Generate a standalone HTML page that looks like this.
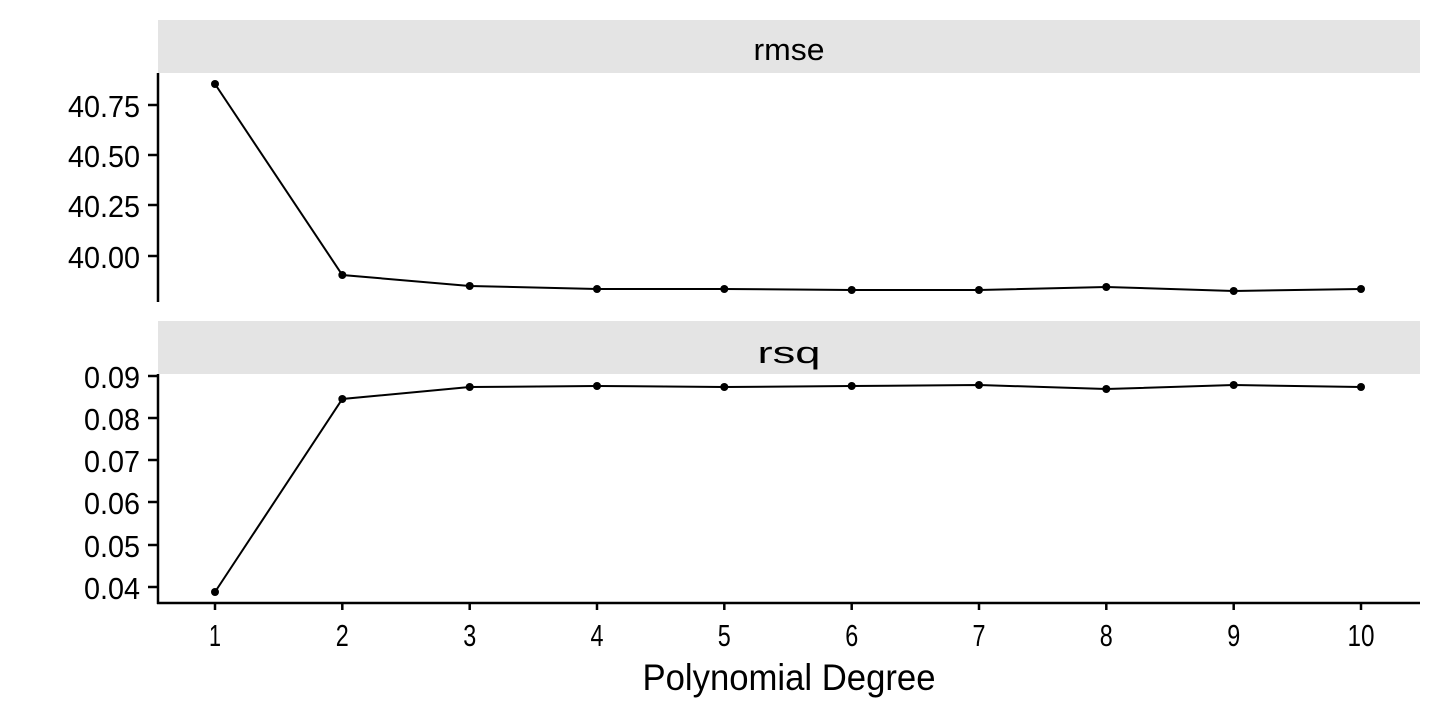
<!DOCTYPE html>
<html><head><meta charset="utf-8"><style>
html,body{margin:0;padding:0;background:#fff;}
text{font-family:"Liberation Sans",sans-serif;fill:#000;}
</style></head><body>
<svg width="1440" height="720" viewBox="0 0 1440 720" xmlns="http://www.w3.org/2000/svg">
<rect x="158" y="20" width="1262" height="53" fill="#e4e4e4"/>
<rect x="158" y="321" width="1262" height="53" fill="#e4e4e4"/>
<text x="789" y="60" font-size="31" text-anchor="middle" textLength="71" lengthAdjust="spacingAndGlyphs">rmse</text>
<text x="789" y="363" font-size="31" text-anchor="middle" textLength="63" lengthAdjust="spacingAndGlyphs">rsq</text>
<g stroke="#000" stroke-width="2.5" fill="none">
<line x1="158" y1="73" x2="158" y2="302"/>
<line x1="158" y1="374" x2="158" y2="604"/>
<line x1="157" y1="603" x2="1420" y2="603"/>
<line x1="148" y1="105" x2="158" y2="105"/>
<line x1="148" y1="155" x2="158" y2="155"/>
<line x1="148" y1="205" x2="158" y2="205"/>
<line x1="148" y1="256" x2="158" y2="256"/>
<line x1="148" y1="376" x2="158" y2="376"/>
<line x1="148" y1="418" x2="158" y2="418"/>
<line x1="148" y1="460" x2="158" y2="460"/>
<line x1="148" y1="502" x2="158" y2="502"/>
<line x1="148" y1="545" x2="158" y2="545"/>
<line x1="148" y1="587" x2="158" y2="587"/>
</g>
<g font-size="31" text-anchor="end">
<text x="140" y="117" textLength="72" lengthAdjust="spacingAndGlyphs">40.75</text>
<text x="140" y="167" textLength="72" lengthAdjust="spacingAndGlyphs">40.50</text>
<text x="140" y="217" textLength="72" lengthAdjust="spacingAndGlyphs">40.25</text>
<text x="140" y="268" textLength="72" lengthAdjust="spacingAndGlyphs">40.00</text>
<text x="140" y="388" textLength="56" lengthAdjust="spacingAndGlyphs">0.09</text>
<text x="140" y="430" textLength="56" lengthAdjust="spacingAndGlyphs">0.08</text>
<text x="140" y="472" textLength="56" lengthAdjust="spacingAndGlyphs">0.07</text>
<text x="140" y="514" textLength="56" lengthAdjust="spacingAndGlyphs">0.06</text>
<text x="140" y="557" textLength="56" lengthAdjust="spacingAndGlyphs">0.05</text>
<text x="140" y="599" textLength="56" lengthAdjust="spacingAndGlyphs">0.04</text>
</g>
<g stroke="#000" stroke-width="2.5">
<line x1="215" y1="603" x2="215" y2="610"/><line x1="342.3" y1="603" x2="342.3" y2="610"/>
<line x1="469.7" y1="603" x2="469.7" y2="610"/><line x1="597" y1="603" x2="597" y2="610"/>
<line x1="724.3" y1="603" x2="724.3" y2="610"/><line x1="851.7" y1="603" x2="851.7" y2="610"/>
<line x1="979" y1="603" x2="979" y2="610"/><line x1="1106.3" y1="603" x2="1106.3" y2="610"/>
<line x1="1233.7" y1="603" x2="1233.7" y2="610"/><line x1="1361" y1="603" x2="1361" y2="610"/>
</g>
<g font-size="31" text-anchor="middle">
<text x="215" y="646" textLength="12" lengthAdjust="spacingAndGlyphs">1</text><text x="342.3" y="646" textLength="13" lengthAdjust="spacingAndGlyphs">2</text><text x="469.7" y="646" textLength="13" lengthAdjust="spacingAndGlyphs">3</text>
<text x="597" y="646" textLength="13" lengthAdjust="spacingAndGlyphs">4</text><text x="724.3" y="646" textLength="13" lengthAdjust="spacingAndGlyphs">5</text><text x="851.7" y="646" textLength="13" lengthAdjust="spacingAndGlyphs">6</text>
<text x="979" y="646" textLength="13" lengthAdjust="spacingAndGlyphs">7</text><text x="1106.3" y="646" textLength="13" lengthAdjust="spacingAndGlyphs">8</text><text x="1233.7" y="646" textLength="13" lengthAdjust="spacingAndGlyphs">9</text>
<text x="1361" y="646" textLength="27" lengthAdjust="spacingAndGlyphs">10</text>
</g>
<text x="789" y="690" font-size="37" text-anchor="middle" textLength="293" lengthAdjust="spacingAndGlyphs">Polynomial Degree</text>
<g stroke="#000" stroke-width="2" fill="none">
<polyline points="215,84 342.3,275 469.7,286 597,289 724.3,289 851.7,290 979,290 1106.3,287 1233.7,291 1361,289"/>
<polyline points="215,592 342.3,399 469.7,387 597,386 724.3,387 851.7,386 979,385 1106.3,389 1233.7,385 1361,387"/>
</g>
<g fill="#000">
<circle cx="215" cy="84" r="4"/><circle cx="342.3" cy="275" r="4"/><circle cx="469.7" cy="286" r="4"/>
<circle cx="597" cy="289" r="4"/><circle cx="724.3" cy="289" r="4"/><circle cx="851.7" cy="290" r="4"/>
<circle cx="979" cy="290" r="4"/><circle cx="1106.3" cy="287" r="4"/><circle cx="1233.7" cy="291" r="4"/>
<circle cx="1361" cy="289" r="4"/>
<circle cx="215" cy="592" r="4"/><circle cx="342.3" cy="399" r="4"/><circle cx="469.7" cy="387" r="4"/>
<circle cx="597" cy="386" r="4"/><circle cx="724.3" cy="387" r="4"/><circle cx="851.7" cy="386" r="4"/>
<circle cx="979" cy="385" r="4"/><circle cx="1106.3" cy="389" r="4"/><circle cx="1233.7" cy="385" r="4"/>
<circle cx="1361" cy="387" r="4"/>
</g>
</svg>
</body></html>
